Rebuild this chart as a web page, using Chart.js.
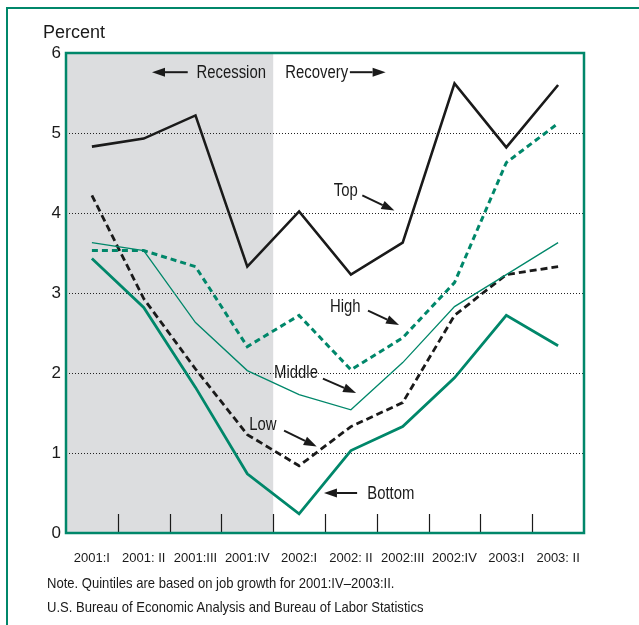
<!DOCTYPE html>
<html lang="en">
<head>
    <meta charset="UTF-8">
    <title>Job growth by quintile</title>
    <script src="https://cdn.jsdelivr.net/npm/chart.js"></script>
    <style>
        body {
            margin: 0;
            background-color: #ffffff;
        }
        .wrap {
            position: relative;
            width: 639px;
            height: 625px;
            overflow: hidden;
        }
        .frame {
            position: absolute;
            left: 6px;
            top: 7px;
            width: 700px;
            height: 700px;
            border-left: 2px solid #00876a;
            border-top: 2px solid #00876a;
        }
        .txt {
            position: absolute;
            color: #1a1a1a;
            font-family: "Liberation Sans", Arial, sans-serif;
            white-space: nowrap;
            line-height: 1;
        }
        #percent {
            left: 43px;
            top: 23px;
            font-size: 18px;
        }
        #note, #source {
            left: 47px;
            font-size: 15px;
            transform: scaleX(0.87);
            transform-origin: 0 0;
        }
        #note { top: 575px; }
        #source { top: 599px; }
        canvas {
            position: absolute;
            left: 0;
            top: 0;
        }
    </style>
</head>
<body>
<div class="wrap">
    <div class="frame"></div>
    <canvas id="chart" width="639" height="625"></canvas>
    <div class="txt" id="percent">Percent</div>
    <div class="txt" id="note">Note. Quintiles are based on job growth for 2001:IV–2003:II.</div>
    <div class="txt" id="source">U.S. Bureau of Economic Analysis and Bureau of Labor Statistics</div>
</div>

<script>
    // quarters and quintile series (percent)
    const quarters = ['2001:I', '2001: II', '2001:III', '2001:IV', '2002:I', '2002: II', '2002:III', '2002:IV', '2003:I', '2003: II'];
    const topQ    = [4.83, 4.93, 5.22, 3.33, 4.02, 3.23, 3.63, 5.62, 4.82, 5.60];
    const highQ   = [3.53, 3.53, 3.33, 2.33, 2.72, 2.04, 2.44, 3.13, 4.63, 5.12];
    const middleQ = [3.63, 3.53, 2.63, 2.03, 1.73, 1.54, 2.13, 2.83, 3.23, 3.63];
    const lowQ    = [4.22, 2.93, 2.05, 1.23, 0.84, 1.33, 1.63, 2.72, 3.23, 3.33];
    const bottomQ = [3.43, 2.82, 1.82, 0.74, 0.24, 1.03, 1.33, 1.94, 2.72, 2.34];
    const yTicks  = [0, 1, 2, 3, 4, 5, 6];
    const recessionEnd = 3; // last recession quarter index

    // labels with arrows, in data units (x = category index, y = percent)
    const callouts = [
        { text: 'Recession', x: 2.69, y: 5.76, from: [1.85, 5.76], to: [1.16, 5.76] },
        { text: 'Recovery',  x: 4.34, y: 5.76, from: [4.98, 5.76], to: [5.67, 5.76] },
        { text: 'Top',       x: 4.90, y: 4.29, from: [5.22, 4.22], to: [5.84, 4.03] },
        { text: 'High',      x: 4.89, y: 2.83, from: [5.33, 2.78], to: [5.93, 2.60] },
        { text: 'Middle',    x: 3.94, y: 2.01, from: [4.46, 1.93], to: [5.10, 1.75] },
        { text: 'Low',       x: 3.30, y: 1.36, from: [3.71, 1.28], to: [4.34, 1.08] },
        { text: 'Bottom',    x: 5.77, y: 0.50, from: [5.12, 0.50], to: [4.48, 0.50] }
    ];

    const green = '#00876a';
    const ink = '#1a1a1a';
    const sans = '"Liberation Sans", Arial, sans-serif';

    function halfStep(xs) {
        return (xs.getPixelForValue(1) - xs.getPixelForValue(0)) / 2;
    }

    const framePlugin = {
        id: 'frame',
        beforeDraw(chart) {
            const { ctx, chartArea: a, scales } = chart;
            const xEnd = scales.x.getPixelForValue(recessionEnd) + halfStep(scales.x);
            ctx.save();
            ctx.fillStyle = '#dcdddf';
            ctx.fillRect(a.left, a.top, xEnd - a.left, a.bottom - a.top);
            ctx.restore();
        },
        afterDraw(chart) {
            const { ctx, chartArea: a, scales } = chart;
            const xs = scales.x;
            const ys = scales.y;
            const h = halfStep(xs);
            ctx.save();
            // inner tick marks between quarters
            ctx.strokeStyle = ink;
            ctx.lineWidth = 1.2;
            for (let i = 1; i < quarters.length; i++) {
                const px = Math.round(xs.getPixelForValue(i) - h) + 0.5;
                ctx.beginPath();
                ctx.moveTo(px, a.bottom);
                ctx.lineTo(px, a.bottom - 19);
                ctx.stroke();
            }
            // plot border
            ctx.strokeStyle = green;
            ctx.lineWidth = 2.5;
            ctx.strokeRect(a.left, a.top, a.right - a.left, a.bottom - a.top);

            // callouts (condensed type)
            ctx.fillStyle = ink;
            callouts.forEach(c => {
                const tx = xs.getPixelForValue(c.x), ty = ys.getPixelForValue(c.y);
                ctx.save();
                ctx.translate(tx, ty);
                ctx.scale(0.85, 1);
                ctx.font = '17.5px ' + sans;
                ctx.textAlign = 'center';
                ctx.textBaseline = 'middle';
                ctx.fillText(c.text, 0, 1);
                ctx.restore();

                const x0 = xs.getPixelForValue(c.from[0]), y0 = ys.getPixelForValue(c.from[1]);
                const x1 = xs.getPixelForValue(c.to[0]), y1 = ys.getPixelForValue(c.to[1]);
                const ang = Math.atan2(y1 - y0, x1 - x0);
                const len = 13, w = 4.5;
                const bx = x1 - len * Math.cos(ang), by = y1 - len * Math.sin(ang);
                ctx.strokeStyle = ink;
                ctx.lineWidth = 2;
                ctx.beginPath();
                ctx.moveTo(x0, y0);
                ctx.lineTo(bx, by);
                ctx.stroke();
                ctx.beginPath();
                ctx.moveTo(x1, y1);
                ctx.lineTo(bx + w * Math.sin(ang), by - w * Math.cos(ang));
                ctx.lineTo(bx - w * Math.sin(ang), by + w * Math.cos(ang));
                ctx.closePath();
                ctx.fill();
            });
            ctx.restore();
        }
    };

    const ctx = document.getElementById('chart').getContext('2d');
    const chart = new Chart(ctx, {
        type: 'line',
        data: {
            labels: quarters,
            datasets: [
                { label: 'Top', data: topQ, borderColor: ink, borderWidth: 2.6 },
                { label: 'High', data: highQ, borderColor: green, borderWidth: 3, borderDash: [6, 4] },
                { label: 'Middle', data: middleQ, borderColor: green, borderWidth: 1.3 },
                { label: 'Low', data: lowQ, borderColor: ink, borderWidth: 2.8, borderDash: [7, 4] },
                { label: 'Bottom', data: bottomQ, borderColor: green, borderWidth: 2.8 }
            ]
        },
        options: {
            responsive: false,
            animation: false,
            layout: {
                padding: { top: 53, right: 55, bottom: 52, left: 0 }
            },
            elements: {
                point: { radius: 0 },
                line: { tension: 0, fill: false, borderJoinStyle: 'miter' }
            },
            plugins: {
                legend: { display: false },
                tooltip: { enabled: false }
            },
            scales: {
                x: {
                    offset: true,
                    afterFit(s) { s.height = 40; },
                    grid: { display: false },
                    border: { display: false },
                    ticks: {
                        color: ink,
                        padding: 10,
                        maxRotation: 0,
                        autoSkip: false,
                        font: { family: sans, size: 13 }
                    }
                },
                y: {
                    min: 0,
                    max: 6,
                    afterFit(s) { s.width = 66; },
                    afterBuildTicks(s) { s.ticks = yTicks.map(v => ({ value: v })); },
                    border: { display: false, dash: [1, 2] },
                    grid: {
                        drawTicks: false,
                        lineWidth: 1,
                        color: c => (c.tick.value === 0 || c.tick.value === 6) ? 'rgba(0,0,0,0)' : '#222222'
                    },
                    ticks: {
                        color: ink,
                        padding: 5,
                        font: { family: sans, size: 17 }
                    }
                }
            }
        },
        plugins: [framePlugin]
    });
</script>
</body>
</html>
